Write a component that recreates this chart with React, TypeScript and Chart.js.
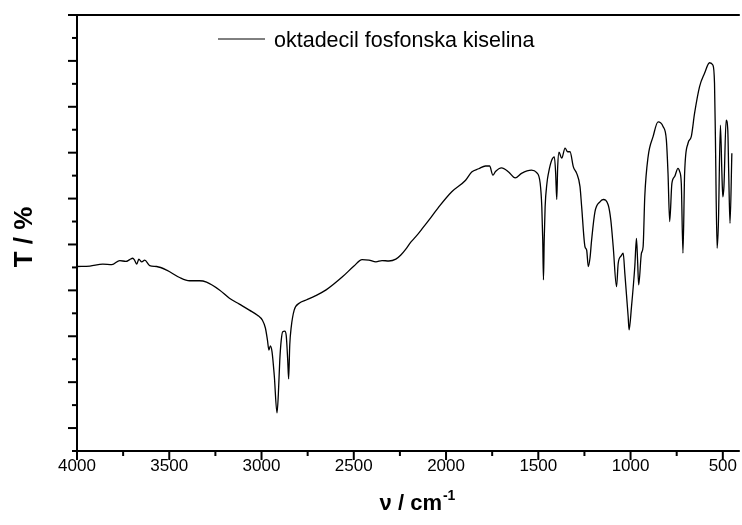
import React, { useEffect, useRef } from "react";
import { Chart, registerables } from "chart.js";

Chart.register(...registerables);

// ---- data ----
const wavenumbers = [
  4000, 3930, 3860, 3811, 3768, 3735, 3714, 3698, 3687, 3676, 3665, 3649, 3633, 3606, 3568, 3514,
  3444, 3390, 3336, 3298, 3228, 3174, 3120, 3066, 3022, 2995, 2979, 2968, 2960, 2952, 2943, 2931,
  2916, 2909, 2901, 2893, 2885, 2874, 2866, 2858, 2853, 2847, 2839, 2823, 2796, 2758, 2709, 2650,
  2563, 2499, 2455, 2418, 2380, 2347, 2310, 2272, 2245, 2218, 2191, 2164, 2126, 2093, 2039, 1969,
  1894, 1861, 1823, 1786, 1764, 1746, 1732, 1699, 1661, 1625, 1591, 1537, 1510, 1490, 1481, 1476,
  1472, 1468, 1463, 1453, 1445, 1427, 1413, 1406, 1400, 1395, 1388, 1373, 1355, 1341, 1328, 1310,
  1292, 1274, 1265, 1247, 1238, 1229, 1220, 1211, 1193, 1166, 1148, 1121, 1107, 1094, 1076, 1067,
  1051, 1040, 1031, 1013, 1008, 995, 977, 968, 962, 956, 941, 932, 923, 905, 878, 851,
  824, 806, 797, 788, 776, 761, 743, 734, 725, 716, 707, 689, 671, 653, 626, 599,
  572, 554, 545, 540, 531, 524, 513, 505, 500, 494, 482, 473, 468, 461, 451,
];
const transmittance = [
  35.2, 35.3, 35.7, 35.6, 36.5, 36.3, 36.7, 37.0, 36.5, 35.7, 36.8, 36.2, 36.6, 35.4, 35.2, 34.4,
  32.8, 32.1, 32.1, 31.8, 30.1, 28.3, 27.0, 25.7, 24.6, 23.5, 21.8, 19.2, 17.0, 17.9, 16.6, 11.5,
  3.3, 7.2, 14.8, 19.2, 21.0, 21.1, 20.1, 14.8, 10.7, 18.1, 22.0, 25.7, 27.2, 27.9, 28.8, 30.1,
  32.9, 35.3, 36.7, 36.6, 36.2, 36.5, 36.4, 36.8, 37.7, 39.0, 40.5, 41.7, 43.6, 45.3, 48.2, 51.5,
  54.0, 55.8, 56.5, 57.1, 57.1, 55.1, 55.9, 56.7, 55.8, 54.5, 55.5, 56.2, 55.7, 53.4, 48.2, 41.0,
  32.3, 41.0, 48.2, 53.4, 55.5, 58.4, 59.1, 55.6, 49.8, 56.9, 60.1, 58.8, 61.0, 60.2, 60.2, 56.9,
  55.5, 52.6, 48.2, 39.5, 38.8, 35.2, 37.0, 41.0, 47.1, 49.3, 49.8, 48.6, 45.3, 39.5, 30.8, 35.9,
  37.5, 38.1, 33.7, 24.3, 21.4, 26.4, 35.2, 41.3, 36.6, 31.2, 38.1, 39.5, 50.4, 59.1, 63.5, 66.7,
  65.7, 62.8, 55.5, 45.0, 53.3, 54.8, 56.6, 55.9, 53.3, 38.1, 55.5, 62.0, 63.5, 68.6, 74.4, 77.3,
  79.6, 79.1, 75.1, 62.8, 39.2, 44.6, 66.0, 55.5, 50.4, 52.6, 67.1, 64.9, 55.5, 44.6, 59.9,
];
const xMajorTicks = [4000, 3500, 3000, 2500, 2000, 1500, 1000, 500];
const xMinorTicks = [3750, 3250, 2750, 2250, 1750, 1250, 750];
const yMajorTicks = [90, 80, 70, 60, 50, 40, 30, 20, 10, 0];
const yMinorTicks = [85, 75, 65, 55, 45, 35, 25, 15, 5, -5];
const seriesLabel = "oktadecil fosfonska kiselina";
const xTitleMain = "ν / cm";
const xTitleSup = "-1";
const yTitle = "T / %";

const X_MIN = 408;
const X_MAX = 4000;
const Y_MIN = -5;
const Y_MAX = 90;

const FONT = "'Liberation Sans', Arial, Helvetica, sans-serif";

const decorPlugin = {
  id: "decor",
  afterDraw(chart: any) {
    const { ctx, chartArea, scales } = chart;
    const { left, right, top, bottom } = chartArea;
    const x = scales.x;
    const y = scales.y;
    ctx.save();
    ctx.strokeStyle = "#000";
    ctx.lineWidth = 2;
    const seg = (x1: number, y1: number, x2: number, y2: number) => {
      ctx.beginPath();
      ctx.moveTo(x1, y1);
      ctx.lineTo(x2, y2);
      ctx.stroke();
    };
    // frame lines (left, bottom, top)
    seg(left, top - 1, left, bottom + 1);
    seg(left, bottom, right, bottom);
    seg(left, top, right, top);
    // y ticks (outward, left)
    yMajorTicks.forEach((v) => {
      const p = y.getPixelForValue(v);
      seg(left - 9, p, left, p);
    });
    yMinorTicks.forEach((v) => {
      const p = y.getPixelForValue(v);
      seg(left - 5, p, left, p);
    });
    // x ticks (outward, down)
    xMajorTicks.forEach((v) => {
      const p = x.getPixelForValue(v);
      seg(p, bottom, p, bottom + 9);
    });
    xMinorTicks.forEach((v) => {
      const p = x.getPixelForValue(v);
      seg(p, bottom, p, bottom + 5);
    });

    ctx.fillStyle = "#000";
    // legend
    ctx.lineWidth = 1;
    ctx.strokeStyle = "#000";
    seg(218, 39, 265, 39);
    ctx.font = `21.5px ${FONT}`;
    ctx.textAlign = "left";
    ctx.textBaseline = "alphabetic";
    ctx.fillText(seriesLabel, 274, 47);

    // x title with superscript
    ctx.font = `bold 22px ${FONT}`;
    const w1 = ctx.measureText(xTitleMain).width;
    ctx.font = `bold 14px ${FONT}`;
    const w2 = ctx.measureText(xTitleSup).width;
    const startX = 417 - (w1 + w2) / 2;
    ctx.font = `bold 22px ${FONT}`;
    ctx.fillText(xTitleMain, startX, 510);
    ctx.font = `bold 14px ${FONT}`;
    ctx.fillText(xTitleSup, startX + w1 + 1, 500);

    // y title rotated
    ctx.translate(32, 237);
    ctx.rotate(-Math.PI / 2);
    ctx.font = `bold 26px ${FONT}`;
    ctx.textAlign = "center";
    ctx.fillText(yTitle, 0, 0);
    ctx.restore();
  },
};

export default function App() {
  const ref = useRef<HTMLCanvasElement | null>(null);
  useEffect(() => {
    document.body.style.margin = "0";
    const canvas = ref.current;
    if (!canvas) return;
    const points = wavenumbers.map((w, i) => ({ x: w, y: transmittance[i] }));
    const chart = new Chart(canvas, {
      type: "line",
      data: {
        datasets: [
          {
            label: seriesLabel,
            data: points,
            borderColor: "#000",
            borderWidth: 1.3,
            pointRadius: 0,
            fill: false,
            cubicInterpolationMode: "monotone",
          },
        ],
      },
      options: {
        animation: false,
        responsive: false,
        devicePixelRatio: 1,
        layout: { padding: { left: 77, top: 15, right: 0, bottom: 0 } },
        plugins: { legend: { display: false }, tooltip: { enabled: false } },
        scales: {
          x: {
            type: "linear",
            reverse: true,
            min: X_MIN,
            max: X_MAX,
            grid: { display: false, drawTicks: false },
            border: { display: false },
            afterBuildTicks: (scale: any) => {
              scale.ticks = xMajorTicks.map((v) => ({ value: v }));
            },
            afterFit: (scale: any) => {
              scale.height = 74;
            },
            ticks: {
              autoSkip: false,
              maxRotation: 0,
              padding: 5,
              color: "#000",
              font: { family: FONT, size: 17 },
              callback: (v: any) => String(v),
            },
          },
          y: {
            type: "linear",
            display: false,
            min: Y_MIN,
            max: Y_MAX,
          },
        },
      },
      plugins: [decorPlugin],
    });
    return () => chart.destroy();
  }, []);
  return (
    <div style={{ width: 742, height: 525, background: "#fff" }}>
      <canvas ref={ref} width={742} height={525} style={{ display: "block" }} />
    </div>
  );
}
